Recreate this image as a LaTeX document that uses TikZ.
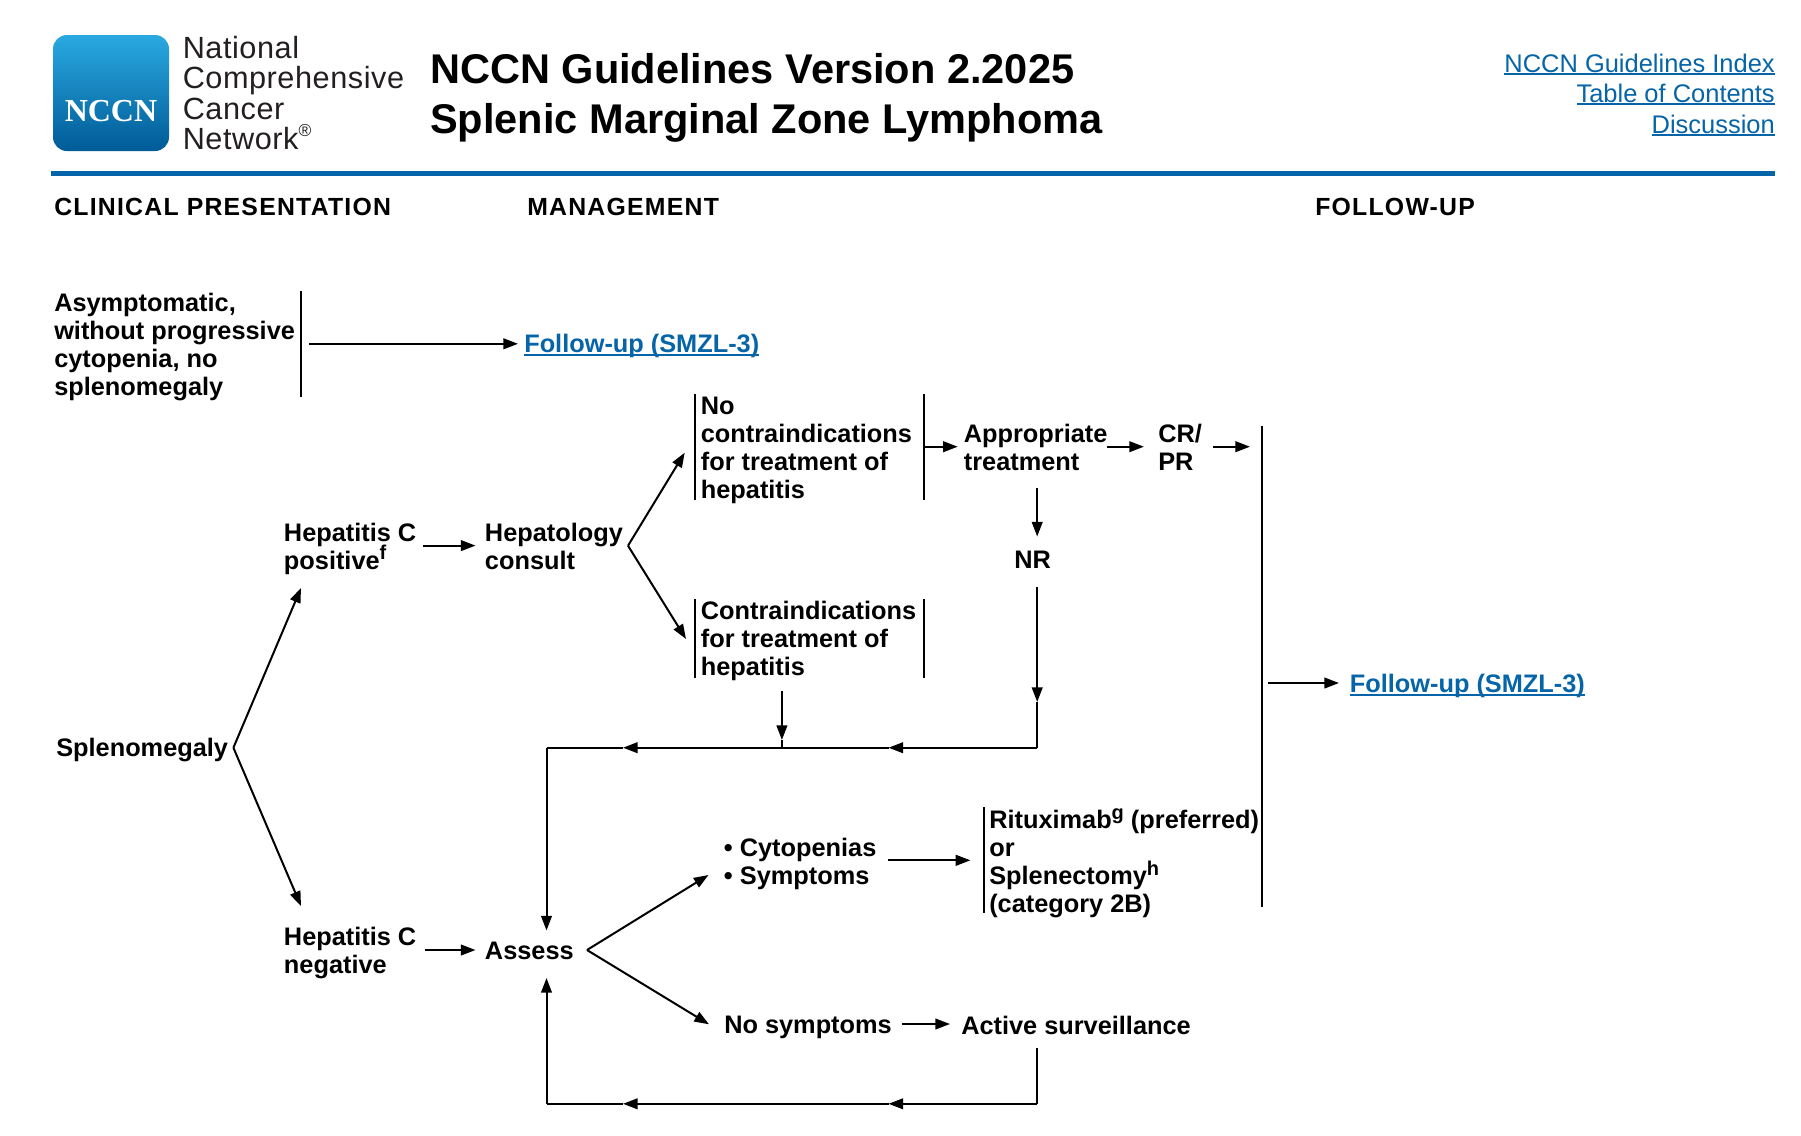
\documentclass[tikz,border=0pt]{standalone}
\usepackage{fontspec}
\usetikzlibrary{arrows.meta}
\setmainfont{Liberation Sans}
\definecolor{nccnblue}{HTML}{0665A8}
\definecolor{logotop}{HTML}{2AA9E1}
\definecolor{logobot}{HTML}{005B97}
\definecolor{logotext}{HTML}{231F20}
\newfontfamily\logoserif{Liberation Serif}
\newcommand{\bodyfont}{\fontsize{19}{21}\bfseries\selectfont}
\newcommand{\sps}[1]{\smash{\raisebox{0.38em}{\fontsize{15}{15}\selectfont #1}}}
\newcommand{\ulk}[2]{\setbox0\hbox{#2}\rlap{\raisebox{-#1}{\rule{\wd0}{1.3pt}}}\box0}
\tikzset{
  txt/.style={anchor=west,inner sep=0pt,align=left,font=\bodyfont,text=black},
  hdr/.style={anchor=base west,inner sep=0pt,font=\fontsize{18.6}{20}\bfseries\addfontfeature{LetterSpace=5}\selectfont},
  title/.style={anchor=base west,inner sep=0pt,font=\fontsize{31.15}{34}\bfseries\selectfont},
  logoname/.style={anchor=base west,inner sep=0pt,text=logotext,font=\fontsize{23}{24}\addfontfeature{LetterSpace=1.8}\selectfont},
  toplink/.style={anchor=base east,inner sep=0pt,text=nccnblue,font=\fontsize{19.1}{22}\selectfont},
  fulink/.style={txt,text=nccnblue},
  bar/.style={line width=1.5pt,draw=black},
  arr/.style={line width=1.5pt,draw=black,-{Triangle[length=11pt,width=8pt]}},
  conn/.style={line width=1.5pt,draw=black},
}
\begin{document}
\begin{tikzpicture}[x=0.75pt,y=-0.75pt]
\useasboundingbox (0,0) rectangle (1801,1135);
\fill[white] (0,0) rectangle (1801,1135);
% logo
\shade[top color=logotop,bottom color=logobot,rounded corners=10.5pt] (53,35) rectangle (169,151);
\node[inner sep=0pt,text=white,font=\logoserif\fontsize{24}{24}\bfseries\selectfont] (logo) at (111,111) {NCCN};
\node[logoname] (ln1) at (182.5,58) {National};
\node[logoname] (ln2) at (182.5,88.5) {Comprehensive};
\node[logoname] (ln3) at (182.5,119) {Cancer};
\node[logoname] (ln4) at (182.5,149.6) {Network\raisebox{0.42em}{\fontsize{13}{13}\selectfont ®}};
% title
\node[title] (t1) at (430,83.2) {NCCN Guidelines Version 2.2025};
\node[title] (t2) at (430,133) {Splenic Marginal Zone Lymphoma};
% links
\node[toplink] (l1) at (1775,72) {\ulk{2.4pt}{NCCN Guidelines Index}};
\node[toplink] (l2) at (1775,102) {\ulk{2.4pt}{Table of Contents}};
\node[toplink] (l3) at (1775,133) {\ulk{2.4pt}{Discussion}};
\draw[line width=3.4pt,draw=nccnblue] (51,173.3) coordinate (r1) -- (1775,173.3) coordinate (r2);
% headers
\node[hdr] (h1) at (54,215) {CLINICAL PRESENTATION};
\node[hdr] (h2) at (527,215) {MANAGEMENT};
\node[hdr] (h3) at (1315,215) {FOLLOW-UP};
% text nodes
\node[txt] (asym) at (54,346.8) {Asymptomatic,\\without progressive\\cytopenia, no\\splenomegaly};
\node[fulink] (fu1) at (524,345.7) {\ulk{2.6pt}{Follow-up (SMZL-3)}};
\node[txt] (spleno) at (56,750) {Splenomegaly};
\node[txt] (hcp) at (283.7,549) {Hepatitis C\\positive\sps{f}};
\node[txt] (hep) at (484.7,546.7) {Hepatology\\consult};
\node[txt] (noc) at (700.6,450.6) {No\\contraindications\\for treatment of\\hepatitis};
\node[txt] (con) at (700.6,641.4) {Contraindications\\for treatment of\\hepatitis};
\node[txt] (app) at (963.6,447) {Appropriate\\treatment};
\node[txt] (cr) at (1158,447.4) {CR/\\PR};
\node[txt] (nr) at (1014,560) {NR};
\node[txt] (hcn) at (283.7,953.4) {Hepatitis C\\negative};
\node[txt] (assess) at (484.7,950.6) {Assess};
\node[txt] (cyto) at (723.6,863.6) {\makebox[12pt][l]{•}Cytopenias\\\makebox[12pt][l]{•}Symptoms};
\node[txt] (rx) at (989,864.4) {Rituximab\sps{g} (preferred)\\or\\Splenectomy\sps{h}\\(category 2B)};
\node[txt] (nosym) at (724,1027.2) {No symptoms};
\node[txt] (active) at (961,1025.6) {Active surveillance};
\node[fulink] (fu2) at (1349.6,685.7) {\ulk{2.6pt}{Follow-up (SMZL-3)}};
% junction coordinates
\coordinate (b1t) at (301,290.6); \coordinate (b1b) at (301,397.4);
\coordinate (a1s) at (309,343.8); \coordinate (a1e) at (518,343.8);
\coordinate (apx1) at (233.4,747.7); \coordinate (tip1) at (301,588); \coordinate (tip2) at (301,906);
\coordinate (a2s) at (422.7,545.6); \coordinate (a2e) at (475.5,545.6);
\coordinate (apx2) at (628,545.7); \coordinate (tip3) at (684.7,452.7); \coordinate (tip4) at (686,639);
\coordinate (n1) at (695,394); \coordinate (n2) at (695,500); \coordinate (n3) at (923.5,394); \coordinate (n4) at (923.5,500);
\coordinate (c1) at (695,599.3); \coordinate (c2) at (695,677.7); \coordinate (c3) at (923.5,599.3); \coordinate (c4) at (923.5,677.7);
\coordinate (a3s) at (924.5,446.7); \coordinate (a3e) at (957.7,446.7);
\coordinate (a4s) at (1107,446.7); \coordinate (a4e) at (1143.9,446.7);
\coordinate (a5s) at (1212.8,446.7); \coordinate (a5e) at (1250,446.7);
\coordinate (lb1) at (1262.3,425.7); \coordinate (lb2) at (1262.3,906.7);
\coordinate (a6s) at (1037.2,487.7); \coordinate (a6e) at (1037.2,536.5);
\coordinate (a7s) at (1037.2,586.7); \coordinate (a7m) at (1037.2,702); \coordinate (cor1) at (1037.2,747.7);
\coordinate (m1) at (888.5,747.7); \coordinate (m2) at (623,747.7); \coordinate (cor2) at (546.5,747.7);
\coordinate (tip5) at (546.5,930.5);
\coordinate (a8s) at (781.9,691); \coordinate (a8e) at (781.9,740); \coordinate (a8j) at (781.9,747.7);
\coordinate (a9s) at (1037.2,1048); \coordinate (cor3) at (1037.2,1103.8);
\coordinate (m3) at (888.5,1103.8); \coordinate (m4) at (623,1103.8); \coordinate (cor4) at (546.5,1103.8);
\coordinate (tip6) at (546.5,978);
\coordinate (a10s) at (425,950); \coordinate (a10e) at (475.5,950);
\coordinate (apx3) at (587,950); \coordinate (tip7) at (708.5,875); \coordinate (tip8) at (709,1024.3);
\coordinate (a11s) at (887.8,860.3); \coordinate (a11e) at (970.4,860.3);
\coordinate (rb1) at (983.7,807.3); \coordinate (rb2) at (983.7,913.3);
\coordinate (a12s) at (901.5,1024); \coordinate (a12e) at (950,1024);
\coordinate (a13s) at (1267.9,683); \coordinate (a13e) at (1339,683);
% bars
\draw[bar] (b1t) -- (b1b);
\draw[bar] (n1) -- (n2); \draw[bar] (n3) -- (n4);
\draw[bar] (c1) -- (c2); \draw[bar] (c3) -- (c4);
\draw[bar] (lb1) -- (lb2);
\draw[bar] (rb1) -- (rb2);
% arrows
\draw[arr] (a1s) -- (a1e);
\draw[arr] (apx1) -- (tip1);
\draw[arr] (apx1) -- (tip2);
\draw[arr] (a2s) -- (a2e);
\draw[arr] (apx2) -- (tip3);
\draw[arr] (apx2) -- (tip4);
\draw[arr] (a3s) -- (a3e);
\draw[arr] (a4s) -- (a4e);
\draw[arr] (a5s) -- (a5e);
\draw[arr] (a6s) -- (a6e);
\draw[arr] (a7s) -- (a7m);
\draw[conn] (a7m) -- (cor1);
\draw[arr] (cor1) -- (m1);
\draw[arr] (m1) -- (m2);
\draw[conn] (m2) -- (cor2);
\draw[arr] (cor2) -- (tip5);
\draw[arr] (a8s) -- (a8e);
\draw[conn] (a8e) -- (a8j);
\draw[conn] (a9s) -- (cor3);
\draw[arr] (cor3) -- (m3);
\draw[arr] (m3) -- (m4);
\draw[conn] (m4) -- (cor4);
\draw[arr] (cor4) -- (tip6);
\draw[arr] (a10s) -- (a10e);
\draw[arr] (apx3) -- (tip7);
\draw[arr] (apx3) -- (tip8);
\draw[arr] (a11s) -- (a11e);
\draw[arr] (a12s) -- (a12e);
\draw[arr] (a13s) -- (a13e);
\end{tikzpicture}
\end{document}
